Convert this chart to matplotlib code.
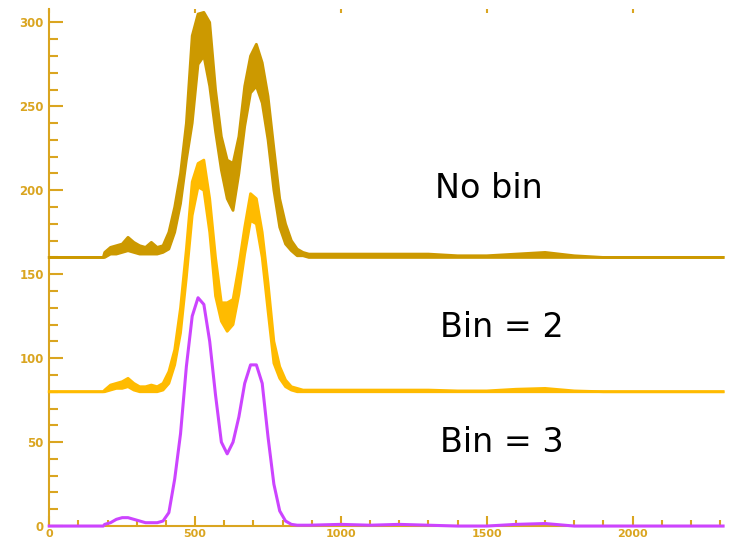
import numpy as np
import matplotlib.pyplot as plt
from matplotlib.ticker import MultipleLocator

# Sample positions: flat lead-in, every 20 over the peaks, every 100 on the tail
x_lead = [0, 185]
x_peak = list(range(190, 900, 20))
x_tail = list(range(1000, 2400, 100))
x_end = 2310

# "No bin" (offset 160): noisy, so kept as upper / lower envelope
nobin_hi = [163, 166, 167, 168, 172, 169, 167, 166, 169, 166, 167, 175, 190, 210, 240, 292, 305, 306,
            300, 260, 232, 218, 216, 232, 262, 280, 287, 276, 256, 225, 195, 180, 170, 165, 163, 162]
nobin_lo = [160, 162, 162, 163, 164, 163, 162, 162, 162, 162, 163, 165, 175, 192, 218, 240, 275, 280,
            262, 235, 212, 195, 188, 210, 238, 258, 262, 252, 230, 200, 178, 168, 164, 161, 161, 160]
nobin_tail_hi = [162, 162, 162, 162, 161, 161, 162, 163, 161, 160, 160, 160, 160, 160]
nobin_tail_lo = [160] * 14

# "Bin = 2" (offset 80)
bin2_hi = [81, 84, 85, 86, 88, 85, 83, 83, 84, 83, 85, 92, 105, 130, 165, 205, 216, 218,
           195, 160, 133, 133, 135, 155, 178, 198, 195, 175, 145, 110, 95, 87, 83, 82, 81, 81]
bin2_lo = [80, 81, 82, 82, 83, 81, 80, 80, 80, 80, 81, 85, 96, 115, 148, 185, 202, 200,
           175, 137, 122, 116, 120, 138, 162, 182, 180, 160, 128, 97, 88, 83, 81, 80, 80, 80]
bin2_tail_hi = [81, 81, 81, 81, 80.5, 80.5, 81.5, 82, 80.5, 80, 80, 80, 80, 80]
bin2_tail_lo = [80] * 14

# "Bin = 3" (no offset), smooth enough for a single line
bin3 = [1, 2, 4, 5, 5, 4, 3, 2, 2, 2, 3, 8, 28, 55, 95, 125, 136, 132,
        110, 78, 50, 43, 50, 65, 85, 96, 96, 85, 53, 25, 9, 3, 1, 0.5, 0.5, 0.5]
bin3_tail = [1, 0.5, 1, 0.5, 0, 0, 1, 1.5, 0, 0, 0, 0, 0, 0]

labels = ['No bin', 'Bin = 2', 'Bin = 3']
label_x = [1321, 1338, 1338]
label_y = [201, 118, 50]

axis_col = '#DAA520'
col_nobin = '#CC9900'
col_bin2 = '#FFBB00'
col_bin3 = '#CC44FF'

x = np.array(x_lead + x_peak + x_tail + [x_end], dtype=float)

fig = plt.figure(figsize=(7.3, 5.44), dpi=100)
ax = fig.add_axes([0.0675, 0.033, 0.923, 0.9505])


def band(base, hi, lo, tail_hi, tail_lo, color):
    hi = np.array([base, base] + hi + tail_hi + [base], dtype=float)
    lo = np.array([base, base] + lo + tail_lo + [base], dtype=float)
    ax.fill_between(x, lo, hi, color=color, lw=0, zorder=3)
    ax.plot(x, hi, color=color, lw=2, zorder=3, clip_on=False)
    ax.plot(x, lo, color=color, lw=2, zorder=3, clip_on=False)


band(160, nobin_hi, nobin_lo, nobin_tail_hi, nobin_tail_lo, col_nobin)
band(80, bin2_hi, bin2_lo, bin2_tail_hi, bin2_tail_lo, col_bin2)
ax.plot(x, np.array([0, 0] + bin3 + bin3_tail + [0], dtype=float),
        color=col_bin3, lw=2.2, zorder=4, clip_on=False)

for t, xx, yy in zip(labels, label_x, label_y):
    ax.text(xx, yy, t, fontsize=24, ha='left', va='center', color='black')

ax.set_xlim(0, x_end)
ax.set_ylim(0, 308)

ax.xaxis.set_major_locator(MultipleLocator(500))
ax.xaxis.set_minor_locator(MultipleLocator(100))
ax.yaxis.set_major_locator(MultipleLocator(50))
ax.yaxis.set_minor_locator(MultipleLocator(10))

ax.tick_params(axis='x', which='major', direction='in', length=7, width=1.5,
               color=axis_col, labelcolor=axis_col, labelsize=8, pad=2)
ax.tick_params(axis='x', which='minor', direction='in', length=4.3, width=1.5, color=axis_col)
ax.tick_params(axis='y', which='major', direction='in', length=10, width=1.5,
               color=axis_col, labelcolor=axis_col, labelsize=8.5, pad=4)
ax.tick_params(axis='y', which='minor', direction='in', length=6.5, width=1.5, color=axis_col)
for lab in ax.get_xticklabels() + ax.get_yticklabels():
    lab.set_fontweight('bold')

for s in ['top', 'right']:
    ax.spines[s].set_visible(False)
for s in ['left', 'bottom']:
    ax.spines[s].set_color(axis_col)
    ax.spines[s].set_linewidth(1.5)

# short ticks along the top edge
top = ax.secondary_xaxis('top')
top.xaxis.set_major_locator(MultipleLocator(500))
top.tick_params(direction='in', length=3, width=1.5, color=axis_col, labeltop=False)
top.spines['top'].set_visible(False)

fig.savefig('out.png', dpi=100)
